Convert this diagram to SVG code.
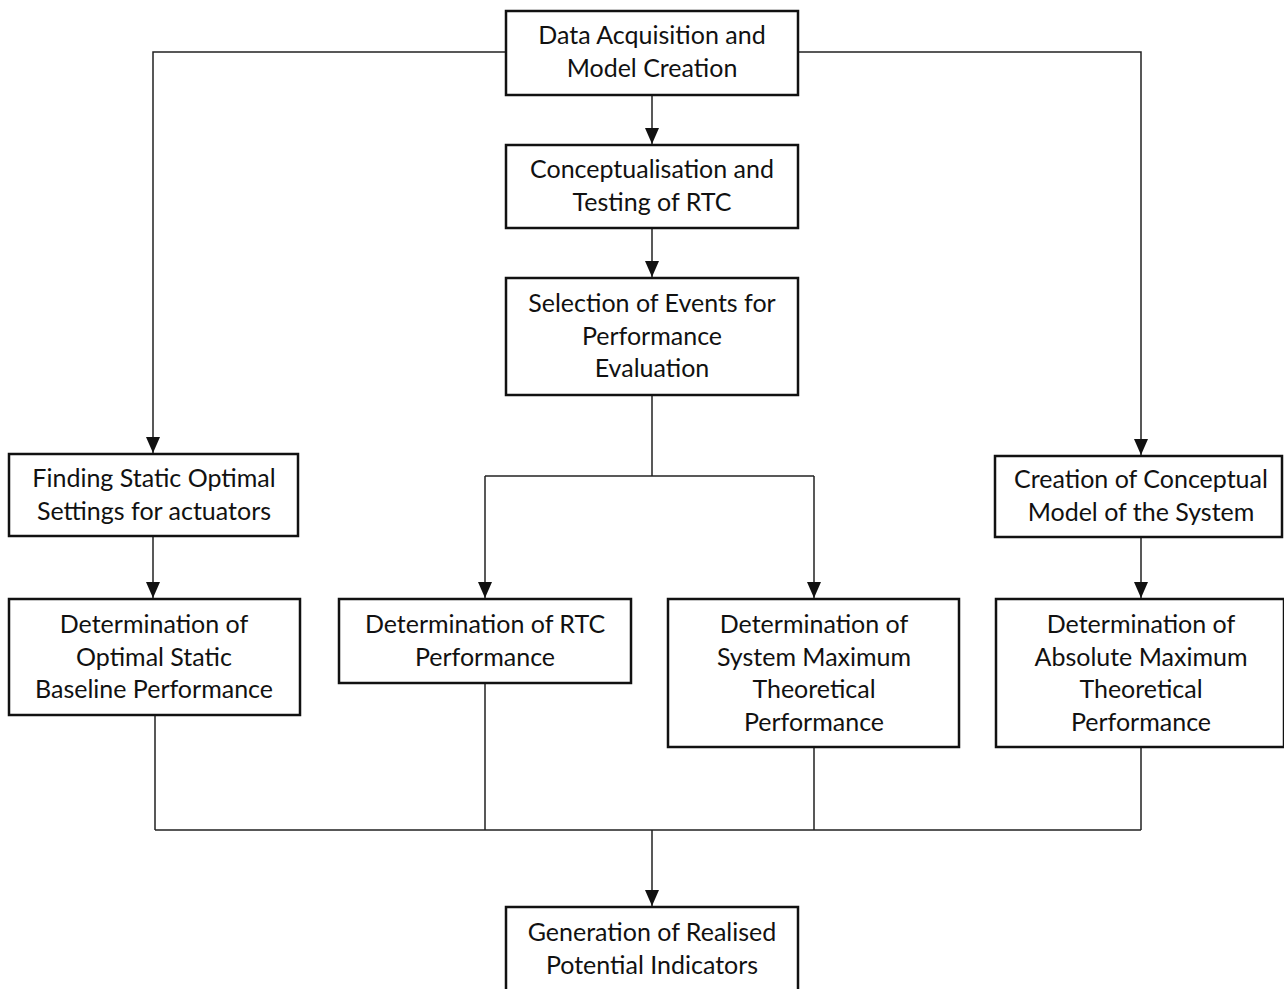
<svg xmlns="http://www.w3.org/2000/svg" width="1284" height="989" viewBox="0 0 1284 989">
<style>
.box{fill:#fff;stroke:#111;stroke-width:2.5}
.t{font-family:Lato,"Open Sans",sans-serif;font-size:25px;fill:#111;text-anchor:middle}
.c{fill:none;stroke:#222;stroke-width:1.5}
</style>
<defs>
<marker id="ah" markerWidth="16" markerHeight="14" viewBox="0 0 16 14" refX="16" refY="7" orient="auto" markerUnits="userSpaceOnUse">
<path d="M0,0 L16,7 L0,14 Z" fill="#111"/>
</marker>
</defs>
<rect width="1284" height="989" fill="#fff"/>
<g id="connectors">
<path class="c" d="M506,52 H153 V453" marker-end="url(#ah)"/>
<path class="c" d="M798,52 H1141 V455" marker-end="url(#ah)"/>
<path class="c" d="M652,95 V144" marker-end="url(#ah)"/>
<path class="c" d="M652,228 V277" marker-end="url(#ah)"/>
<path class="c" d="M652,395 V476"/>
<path class="c" d="M485,476 H814"/>
<path class="c" d="M485,476 V598" marker-end="url(#ah)"/>
<path class="c" d="M814,476 V598" marker-end="url(#ah)"/>
<path class="c" d="M153,536 V598" marker-end="url(#ah)"/>
<path class="c" d="M1141,537 V598" marker-end="url(#ah)"/>
<path class="c" d="M155,715 V830 M485,683 V830 M814,747 V830 M1141,747 V830 M155,830 H1141"/>
<path class="c" d="M652,830 V906" marker-end="url(#ah)"/>
</g>
<g id="n1"><rect class="box" x="506" y="11" width="292" height="84"/>
<text class="t" x="652" y="44">Data Acquisition and</text><text class="t" x="652" y="77">Model Creation</text></g>
<g id="n2"><rect class="box" x="506" y="145" width="292" height="83"/>
<text class="t" x="652" y="178">Conceptualisation and</text><text class="t" x="652" y="211">Testing of RTC</text></g>
<g id="n3"><rect class="box" x="506" y="278" width="292" height="117"/>
<text class="t" x="652" y="312">Selection of Events for</text><text class="t" x="652" y="345">Performance</text><text class="t" x="652" y="377">Evaluation</text></g>
<g id="n4"><rect class="box" x="9" y="454" width="289" height="82"/>
<text class="t" x="154" y="487">Finding Static Optimal</text><text class="t" x="154" y="520">Settings for actuators</text></g>
<g id="n5"><rect class="box" x="995" y="456" width="287" height="81"/>
<text class="t" x="1141" y="488">Creation of Conceptual</text><text class="t" x="1141" y="521">Model of the System</text></g>
<g id="n6"><rect class="box" x="9" y="599" width="291" height="116"/>
<text class="t" x="154" y="633">Determination of</text><text class="t" x="154" y="666">Optimal Static</text><text class="t" x="154" y="698">Baseline Performance</text></g>
<g id="n7"><rect class="box" x="339" y="599" width="292" height="84"/>
<text class="t" x="485" y="633">Determination of RTC</text><text class="t" x="485" y="666">Performance</text></g>
<g id="n8"><rect class="box" x="668" y="599" width="291" height="148"/>
<text class="t" x="814" y="633">Determination of</text><text class="t" x="814" y="666">System Maximum</text><text class="t" x="814" y="698">Theoretical</text><text class="t" x="814" y="731">Performance</text></g>
<g id="n9"><rect class="box" x="996" y="599" width="288" height="148"/>
<text class="t" x="1141" y="633">Determination of</text><text class="t" x="1141" y="666">Absolute Maximum</text><text class="t" x="1141" y="698">Theoretical</text><text class="t" x="1141" y="731">Performance</text></g>
<g id="n10"><rect class="box" x="506" y="907" width="292" height="90"/>
<text class="t" x="652" y="941">Generation of Realised</text><text class="t" x="652" y="974">Potential Indicators</text></g>
</svg>
